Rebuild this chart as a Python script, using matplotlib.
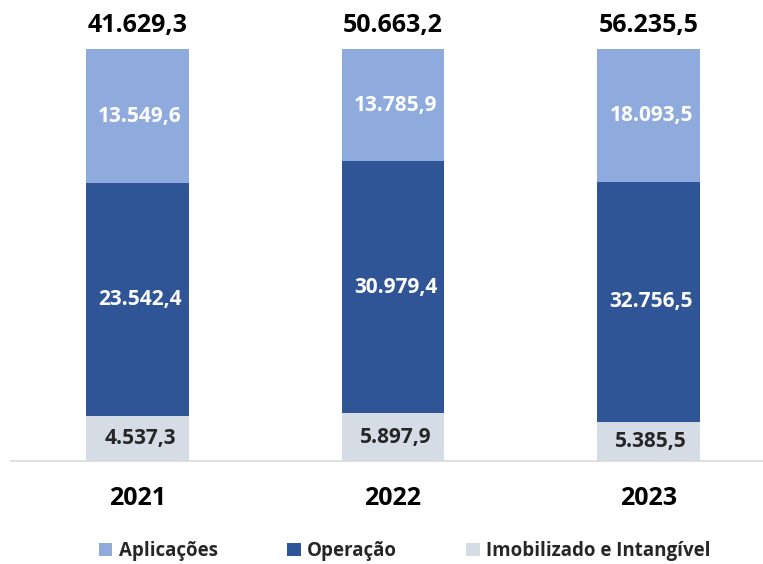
import matplotlib
matplotlib.use("Agg")
import matplotlib.pyplot as plt
import numpy as np

years = ["2021", "2022", "2023"]
imobilizado = [4537.3, 5897.9, 5385.5]
operacao = [23542.4, 30979.4, 32756.5]
aplicacoes = [13549.6, 13785.9, 18093.5]
series_names = ["Aplicações", "Operação", "Imobilizado e Intangível"]
colors = {"Aplicações": "#8FAADC", "Operação": "#2F5597", "Imobilizado e Intangível": "#D6DCE5"}

def fmt(v):
    s = f"{v:,.1f}"
    return s.replace(",", "X").replace(".", ",").replace("X", ".")

plt.rcParams['font.family'] = ['Open Sans', 'DejaVu Sans']

W, H = 763, 564
fig = plt.figure(figsize=(W/100, H/100), dpi=100)
ax = fig.add_axes([11/W, (H-461)/H, (763-11)/W, (461-49)/H])

x = np.arange(len(years))
totals = np.array(imobilizado) + np.array(operacao) + np.array(aplicacoes)
imo_p = np.array(imobilizado) / totals * 100
ope_p = np.array(operacao) / totals * 100
apl_p = np.array(aplicacoes) / totals * 100

w = 0.40
b1 = ax.bar(x, imo_p, w, color=colors["Imobilizado e Intangível"], label="Imobilizado e Intangível")
b2 = ax.bar(x, ope_p, w, bottom=imo_p, color=colors["Operação"], label="Operação")
b3 = ax.bar(x, apl_p, w, bottom=imo_p + ope_p, color=colors["Aplicações"], label="Aplicações")

seg_fs = 15
for i in range(len(years)):
    ax.text(x[i] + 0.01, imo_p[i] / 2, fmt(imobilizado[i]), ha='center', va='center',
            fontsize=seg_fs, fontweight='bold', color='#262626')
    ax.text(x[i] + 0.01, imo_p[i] + ope_p[i] / 2, fmt(operacao[i]), ha='center', va='center',
            fontsize=seg_fs, fontweight='bold', color='white')
    ax.text(x[i] + 0.01, imo_p[i] + ope_p[i] + apl_p[i] / 2, fmt(aplicacoes[i]), ha='center', va='center',
            fontsize=seg_fs, fontweight='bold', color='white')
    ax.text(x[i], 100 + 5.8, fmt(totals[i]), ha='center', va='center',
            fontsize=18, fontweight='bold', color='black', clip_on=False)

ax.set_xlim(-0.495, 2.448)
ax.set_ylim(0, 100)
ax.set_xticks(x)
ax.set_xticklabels(years, fontsize=18, fontweight='bold')
ax.tick_params(axis='x', length=0, pad=18)
ax.set_yticks([])
for s in ['top', 'right', 'left']:
    ax.spines[s].set_visible(False)
ax.spines['bottom'].set_color('#D9D9D9')
ax.spines['bottom'].set_linewidth(1.2)

handles = [b3, b2, b1]
leg = fig.legend(handles, series_names, loc='center', bbox_to_anchor=(405/W, (H-551)/H),
                 ncol=3, frameon=False, fontsize=13.5, handlelength=0.7, handleheight=0.7,
                 handletextpad=0.35, columnspacing=3.7, borderpad=0)
for t in leg.get_texts():
    t.set_fontweight('bold')
    t.set_color('#262626')

fig.savefig("out.png", dpi=100)
